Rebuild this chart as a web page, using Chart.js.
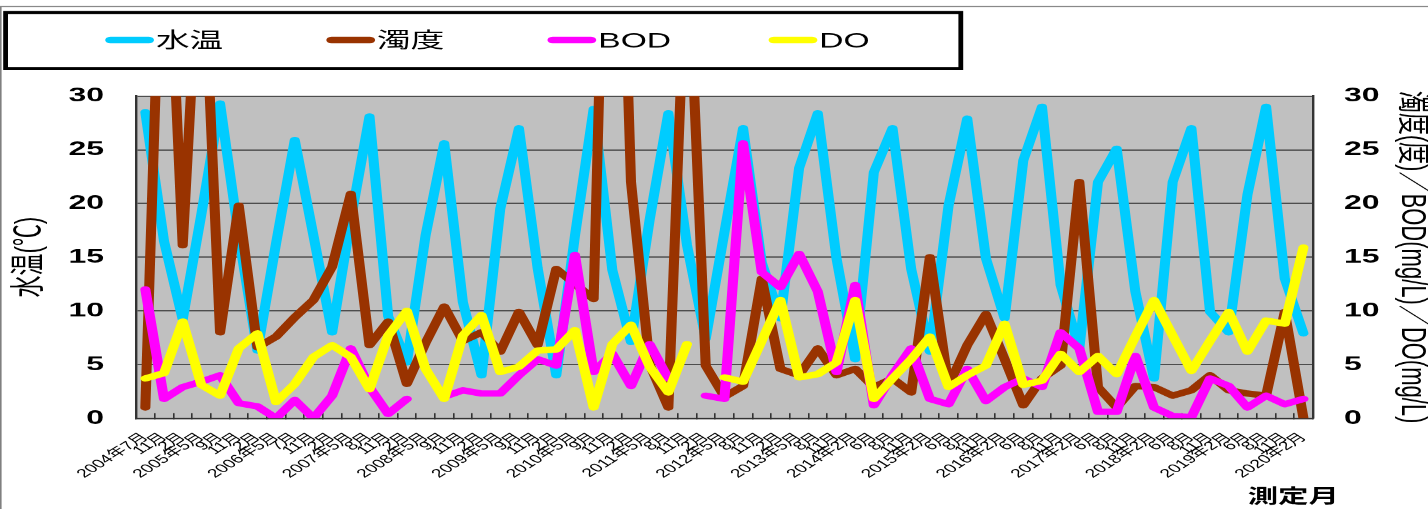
<!DOCTYPE html>
<html lang="ja">
<head>
<meta charset="utf-8">
<title>水質の推移</title>
<script src="https://cdn.jsdelivr.net/npm/chart.js@4.4.1/dist/chart.umd.min.js"></script>
<style>
    html, body { margin: 0; padding: 0; background: #fff; overflow: hidden; }
    /* the original picture is stretched sideways, so draw narrow and widen it */
    #wrap { position: relative; width: 893px; height: 509px; transform: scaleX(1.5991); transform-origin: 0 0; }
</style>
</head>
<body>
<div id="wrap"><canvas id="chart"></canvas></div>
<script>
// 測定月
const months = [
    '2004年7月', '11月', '2月',
    '2005年5月', '9月', '11月', '2月',
    '2006年5月', '7月', '11月', '2月',
    '2007年5月', '8月', '11月', '2月',
    '2008年5月', '9月', '11月', '2月',
    '2009年5月', '9月', '11月', '2月',
    '2010年5月', '9月', '11月', '2月',
    '2011年5月', '8月', '11月', '2月',
    '2012年5月', '8月', '11月', '2月',
    '2013年5月', '8月', '11月',
    '2014年2月', '6月', '8月', '11月',
    '2015年2月', '6月', '8月', '11月',
    '2016年2月', '6月', '8月', '11月',
    '2017年2月', '6月', '8月', '11月',
    '2018年2月', '6月', '8月', '11月',
    '2019年2月', '6月', '8月', '11月',
    '2020年2月'
];

// 水温 (℃), left axis
const waterTemp = [28.5, 16.5, 9.2, 19, 29.3, 17, 6.3, 16.3, 25.9, 17, 8.0, 18.5, 28.1, 9.5, 5.2, 17,
    25.6, 10.8, 4.0, 19.5, 27.0, 14, 4.0, 17, 28.8, 13.8, 7.1, 18.5, 28.4, 16.1, 7.4, 17.3,
    27.0, 14.5, 9.3, 23.3, 28.4, 14.9, 5.5, 22.9, 27.0, 13.9, 6.2, 19.8, 27.9, 14.9, 9.3, 24.0,
    29.0, 12.4, 6.5, 22.0, 25.1, 11.8, 3.7, 22.0, 27.0, 9.9, 8.0, 20.8, 29.0, 13.0, 7.9];

// 濁度 (度), right axis - some values run far above the top
const turbidity = [1.0, 55, 16.1, 48, 8.0, 19.8, 6.6, 7.6, 9.4, 11.0, 14.1, 20.9, 6.8, 9.0, 3.2, 7.0,
    10.4, 7.2, 8.0, 6.2, 9.9, 6.8, 13.9, 12.5, 11.1, 77, 22.0, 5.0, 1.0, 46, 4.9, 2.0,
    3.0, 13.0, 4.6, 4.0, 6.5, 4.0, 4.6, 2.9, 3.7, 2.4, 15.0, 3.0, 6.8, 9.7, 5.5, 1.2,
    3.7, 4.9, 22.0, 2.9, 1.0, 3.0, 2.9, 2.1, 2.6, 4.0, 2.6, 2.3, 2.1, 9.9, 0];

// BOD (mg/L), right axis
const bod = [12.0, 1.8, 2.9, 3.4, 4.0, 1.4, 1.1, 0, 1.7, 0, 2.1, 6.5, 2.9, 0.4, 1.8, null,
    2.0, 2.6, 2.3, 2.3, 4.0, 5.5, 4.9, 15.2, 4.3, 6.0, 3.0, 6.9, 3.7, null, 2.1, 1.8,
    25.6, 13.6, 12.2, 15.3, 11.8, 4.3, 12.4, 1.2, 4.0, 6.5, 1.8, 1.3, 4.6, 1.6, 2.9, 3.7,
    2.9, 8.0, 6.5, 0.6, 0.6, 5.8, 1.0, 0.2, 0.1, 3.7, 3.0, 1.0, 2.1, 1.3, 1.8];

// DO (mg/L), right axis
const dissolvedOxygen = [3.7, 4.2, 9.0, 3.1, 2.1, 6.5, 7.9, 1.5, 3.2, 5.7, 6.8, 5.7, 2.7, 7.7, 10.0, 4.6,
    1.8, 7.7, 9.6, 4.3, 4.8, 6.3, 6.4, 8.2, 1.0, 6.9, 8.7, 4.8, 2.4, 6.9, null, 3.8,
    3.4, 7.2, 11.0, 3.8, 4.1, 5.2, 11.0, 1.8, 3.7, 5.5, 7.6, 2.9, 4.0, 4.9, 8.8, 3.1,
    3.5, 6.0, 4.3, 5.8, 4.1, 7.6, 11.0, 7.7, 4.4, 7.2, 9.9, 6.2, 9.1, 8.8, 15.9];

// tick values shared by both value axes
const valueTicks = [0, 5, 10, 15, 20, 25, 30];

const FONT = "'Liberation Sans', 'Noto Sans CJK JP', sans-serif";
Chart.defaults.font.family = FONT;
Chart.defaults.color = '#000';

function lineDataset(label, data, color, axis, order) {
    return {
        label: label,
        data: data,
        yAxisID: axis,
        order: order,
        borderColor: color,
        backgroundColor: color,
        borderWidth: 6.3,
        borderCapStyle: 'round',
        borderJoinStyle: 'round',
        pointRadius: 0,
        pointHoverRadius: 0,
        tension: 0,
        spanGaps: false,
        fill: false,
        clip: 0
    };
}

// legend box drawn above the plot, same look as the original
function drawLegend(chart) {
    const ctx = chart.ctx;
    ctx.strokeStyle = '#000';
    ctx.lineWidth = 3;
    ctx.strokeRect(3.5, 12.5, 597, 56);
    ctx.font = '21px ' + FONT;
    ctx.textBaseline = 'middle';
    ctx.textAlign = 'left';
    chart.data.datasets.forEach((ds, i) => {
        const x = 69 + i * 138.2;
        ctx.strokeStyle = ds.borderColor;
        ctx.lineWidth = 6.5;
        ctx.lineCap = 'round';
        ctx.beginPath();
        ctx.moveTo(x, 40);
        ctx.lineTo(x + 24, 40);
        ctx.stroke();
        ctx.fillStyle = '#000';
        ctx.fillText(ds.label, x + 28.5, 41.5);
    });
}

const framePlugin = {
    id: 'frame',
    beforeDraw(chart) {
        const { ctx, chartArea } = chart;
        ctx.save();
        ctx.fillStyle = '#c0c0c0';
        ctx.fillRect(chartArea.left, chartArea.top, chartArea.right - chartArea.left, chartArea.bottom - chartArea.top);
        ctx.restore();
    },
    afterDraw(chart) {
        const { ctx, chartArea } = chart;
        ctx.save();
        // outer chart border
        ctx.strokeStyle = '#808080';
        ctx.lineWidth = 1;
        ctx.strokeRect(0.5, 6.5, chart.width + 10, chart.height + 10);
        drawLegend(chart);
        // x axis title, sits a little past the plot's right edge
        ctx.fillStyle = '#000';
        ctx.font = 'bold 19px ' + FONT;
        ctx.textAlign = 'right';
        ctx.textBaseline = 'middle';
        ctx.fillText('測定月', chartArea.right + 16.3, 497.5);
        ctx.restore();
    }
};

const stepSize = valueTicks[1] - valueTicks[0];
const yMin = valueTicks[0];
const yMax = valueTicks[valueTicks.length - 1];

new Chart(document.getElementById('chart'), {
    type: 'line',
    data: {
        labels: months,
        datasets: [
            lineDataset('水温', waterTemp, '#00ccff', 'y', 3),
            lineDataset('濁度', turbidity, '#993300', 'y2', 2),
            lineDataset('BOD', bod, '#ff00ff', 'y2', 1),
            lineDataset('DO', dissolvedOxygen, '#ffff00', 'y2', 0)
        ]
    },
    options: {
        responsive: true,
        maintainAspectRatio: false,
        devicePixelRatio: 1.6,
        animation: false,
        events: [],
        layout: { padding: { top: 96, left: 0, right: 0, bottom: 0 } },
        plugins: {
            legend: { display: false },
            tooltip: { enabled: false }
        },
        scales: {
            x: {
                offset: true,
                grid: { offset: true, drawOnChartArea: false, drawTicks: true, tickLength: -5, color: '#333' },
                border: { display: true, color: '#333', width: 1.5 },
                ticks: { autoSkip: false, minRotation: 45, maxRotation: 45, padding: 17, color: '#000', font: { size: 12 } },
                afterFit(scale) { scale.height = 91; }
            },
            y: {
                position: 'left',
                min: yMin,
                max: yMax,
                ticks: { stepSize: stepSize, padding: 20, color: '#000', font: { size: 20, weight: 'bold' } },
                grid: { color: '#4d4d4d', lineWidth: 1.2, drawTicks: false },
                border: { display: true, color: '#333', width: 1.5 },
                title: { display: true, text: '水温(℃)', color: '#000', font: { size: 22, lineHeight: 1 }, padding: { top: 7.8, bottom: 0 } },
                afterFit(scale) { scale.width = 85; }
            },
            y2: {
                position: 'right',
                min: yMin,
                max: yMax,
                ticks: { stepSize: stepSize, padding: 19.5, color: '#000', font: { size: 20, weight: 'bold' } },
                grid: { drawOnChartArea: false, drawTicks: false },
                border: { display: true, color: '#333', width: 1.5 },
                title: { display: true, text: '濁度(度)／BOD(mg/L)／DO(mg/L)', color: '#000', font: { size: 22, lineHeight: 1 }, padding: { top: 0, bottom: 0 } },
                afterFit(scale) { scale.width = 72.5; }
            }
        }
    },
    plugins: [framePlugin]
});
</script>
</body>
</html>
